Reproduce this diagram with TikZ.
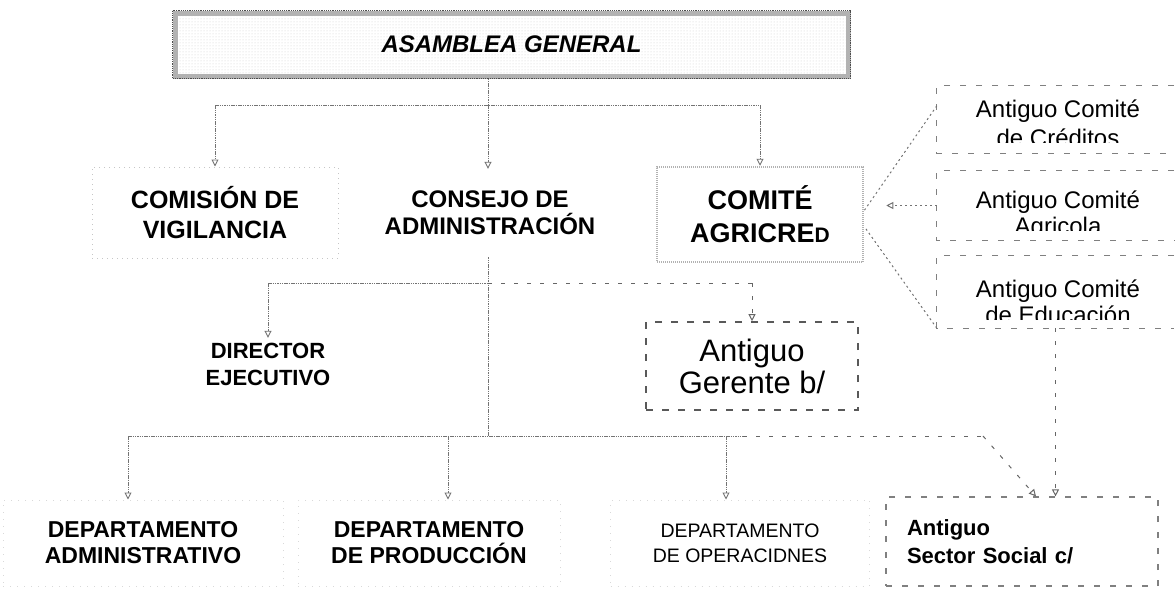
\documentclass[tikz,border=0pt]{standalone}
\usepackage{fontspec}
\setmainfont{Liberation Sans}
\usetikzlibrary{arrows.meta,patterns,calc}
\begin{document}
\begin{tikzpicture}[x=1pt,y=-1pt,
  conn/.style={draw=black!55, line width=0.9pt, dash pattern=on 1.5pt off 0.8pt},
  dconn/.style={draw=black!60, line width=1pt, dash pattern=on 4pt off 9pt},
  dotc/.style={draw=black!55, line width=1pt, dash pattern=on 2pt off 3pt},
  arr/.style={-{Triangle[open,length=7pt,width=7pt]}},
  asam/.style={draw=gray!60, line width=5pt, pattern=dots, pattern color=gray!40, inner sep=0pt, minimum width=673, minimum height=63},
  cbox/.style={draw=gray!45, line width=1pt, dash pattern=on 1pt off 4pt, align=center, inner sep=0pt},
  kbox/.style={draw=gray!60, line width=2.5pt, dash pattern=on 1pt off 1pt, align=center, inner sep=0pt},
  plain/.style={align=center, inner sep=0pt},
  ant/.style={inner sep=0pt, minimum width=237},
  antline/.style={draw=black!50, line width=1.2pt, dash pattern=on 6pt off 10pt},
  anttext/.style={inner sep=0pt, font=\fontsize{24}{28}\selectfont},
  gbox/.style={draw=black!65, line width=1.6pt, dash pattern=on 7pt off 9pt, align=center, inner sep=0pt},
  dbox/.style={draw=gray!30, line width=1pt, dash pattern=on 1pt off 6pt, align=center, inner sep=0pt},
  sbox/.style={draw=black!50, line width=1.2pt, dash pattern=on 6pt off 10pt, align=left, inner ysep=0pt}
]
\useasboundingbox (0,0) rectangle (1176,589);

% top
\node[asam, font=\fontsize{24}{28}\selectfont\bfseries\itshape] (asamblea) at (511.5,44.5) {ASAMBLEA GENERAL};
\draw[black!70, line width=1.2pt, densely dotted] (asamblea.north west) rectangle (asamblea.south east);

% level 1
\node[cbox, minimum width=246, minimum height=91, font=\fontsize{25}{30}\selectfont\bfseries] (comision) at (215,212.5) {COMISIÓN DE\\VIGILANCIA};
\node[plain, minimum width=220, minimum height=88, font=\fontsize{24}{27}\selectfont\bfseries] (consejo) at (490,213) {CONSEJO DE\\ADMINISTRACIÓN};
\node[kbox, minimum width=206, minimum height=95, font=\fontsize{27}{33}\selectfont\bfseries] (comite) at (760,214.5) {COMITÉ\\AGRICRE{\fontsize{21}{21}\selectfont D}};

% right column
\node[ant, minimum height=67] (b1) at (1055.5,119.5) {};
\node[ant, minimum height=69] (b2) at (1055.5,205.5) {};
\node[ant, minimum height=72] (b3) at (1055.5,292) {};
\foreach \b in {b1,b2,b3}{
  \draw[antline] (\b.north east) -- (\b.north west) -- (\b.south west) -- (\b.south east);
}
\begin{scope}
  \clip (b1.north west) rectangle ([yshift=11pt]b1.south east);
  \node[anttext, anchor=base] (t1a) at (1058,117) {Antiguo Comité};
  \node[anttext, anchor=base] (t1b) at (1058,146) {de Créditos};
\end{scope}
\begin{scope}
  \clip (b2.north west) rectangle ([yshift=10pt]b2.south east);
  \node[anttext, anchor=base] (t2a) at (1058,208) {Antiguo Comité};
  \node[anttext, anchor=base] (t2b) at (1058,234) {Agricola};
\end{scope}
\begin{scope}
  \clip (b3.north west) rectangle ([yshift=9pt]b3.south east);
  \node[anttext, anchor=base] (t3a) at (1058,297) {Antiguo Comité};
  \node[anttext, anchor=base] (t3b) at (1058,323) {de Educación};
\end{scope}

% level 2
\node[plain, minimum width=150, minimum height=52, font=\fontsize{22}{27}\selectfont\bfseries] (director) at (268,364) {DIRECTOR\\EJECUTIVO};
\node[gbox, minimum width=212, minimum height=88, font=\fontsize{31}{32}\selectfont] (gerente) at (752,366) {Antiguo\\Gerente b/};

% level 3
\node[dbox, minimum width=280, minimum height=86, font=\fontsize{23}{26}\selectfont\bfseries] (d1) at (143,543) {DEPARTAMENTO\\ADMINISTRATIVO};
\node[dbox, minimum width=262, minimum height=86, font=\fontsize{23}{26}\selectfont\bfseries] (d2) at (429,543) {DEPARTAMENTO\\DE PRODUCCIÓN};
\node[dbox, minimum width=259, minimum height=86, font=\fontsize{19.5}{25}\selectfont] (d3) at (740,543) {DEPARTAMENTO\\DE OPERACIDNES};
\node[sbox, text width=230, inner xsep=21, minimum height=89, font=\fontsize{22}{28}\selectfont\bfseries] (social) at (1022,541.5) {Antiguo\\Sector Social c/};

% connectors level 1
\coordinate (bus1) at (488,105);
\draw[conn] (asamblea.south -| bus1) -- (bus1);
\draw[conn] (bus1 -| comision.north) -- (bus1 -| comite.north);
\draw[conn,arr] (bus1 -| comision.north) -- (comision.north);
\draw[conn,arr] (bus1) -- (bus1 |- consejo.north);
\draw[conn,arr] (bus1 -| comite.north) -- (comite.north);

% old committees to AGRICRED
\draw[dotc] ([yshift=-20pt]b1.north west) -- ([yshift=4pt]comite.east);
\draw[dotc,arr,shorten >=22pt] (b2.west) -- (b2.west -| comite.east);
\draw[dotc] (b3.south west) -- ([yshift=-12pt]comite.east);

% level 2 connectors
\coordinate (bus2) at (488,283);
\coordinate (bus3) at (488,436);
\draw[conn] (bus2 |- consejo.south) -- (bus3);
\draw[conn] (bus2 -| director.north) -- (bus2);
\draw[conn,arr] (bus2 -| director.north) -- (director.north);
\draw[dconn] (bus2) -- (bus2 -| gerente.north);
\draw[dconn,arr] (bus2 -| gerente.north) -- (gerente.north);

% level 3 connectors
\coordinate (a1) at (128,436);
\coordinate (a2) at (448,436);
\coordinate (a3) at (726,436);
\coordinate (s3) at (743,436);
\coordinate (bend) at (983,436);
\draw[conn] (a1) -- (s3);
\draw[conn,arr] (a1) -- (a1 |- d1.north);
\draw[conn,arr] (a2) -- (a2 |- d2.north);
\draw[conn,arr] (a3) -- (a3 |- d3.north);
\draw[dconn] (s3) -- (bend);
\draw[dconn,arr] (bend) -- ([xshift=14pt]social.north);
\draw[dconn,arr] (b3.south) -- (b3.south |- social.north);
\end{tikzpicture}
\end{document}
